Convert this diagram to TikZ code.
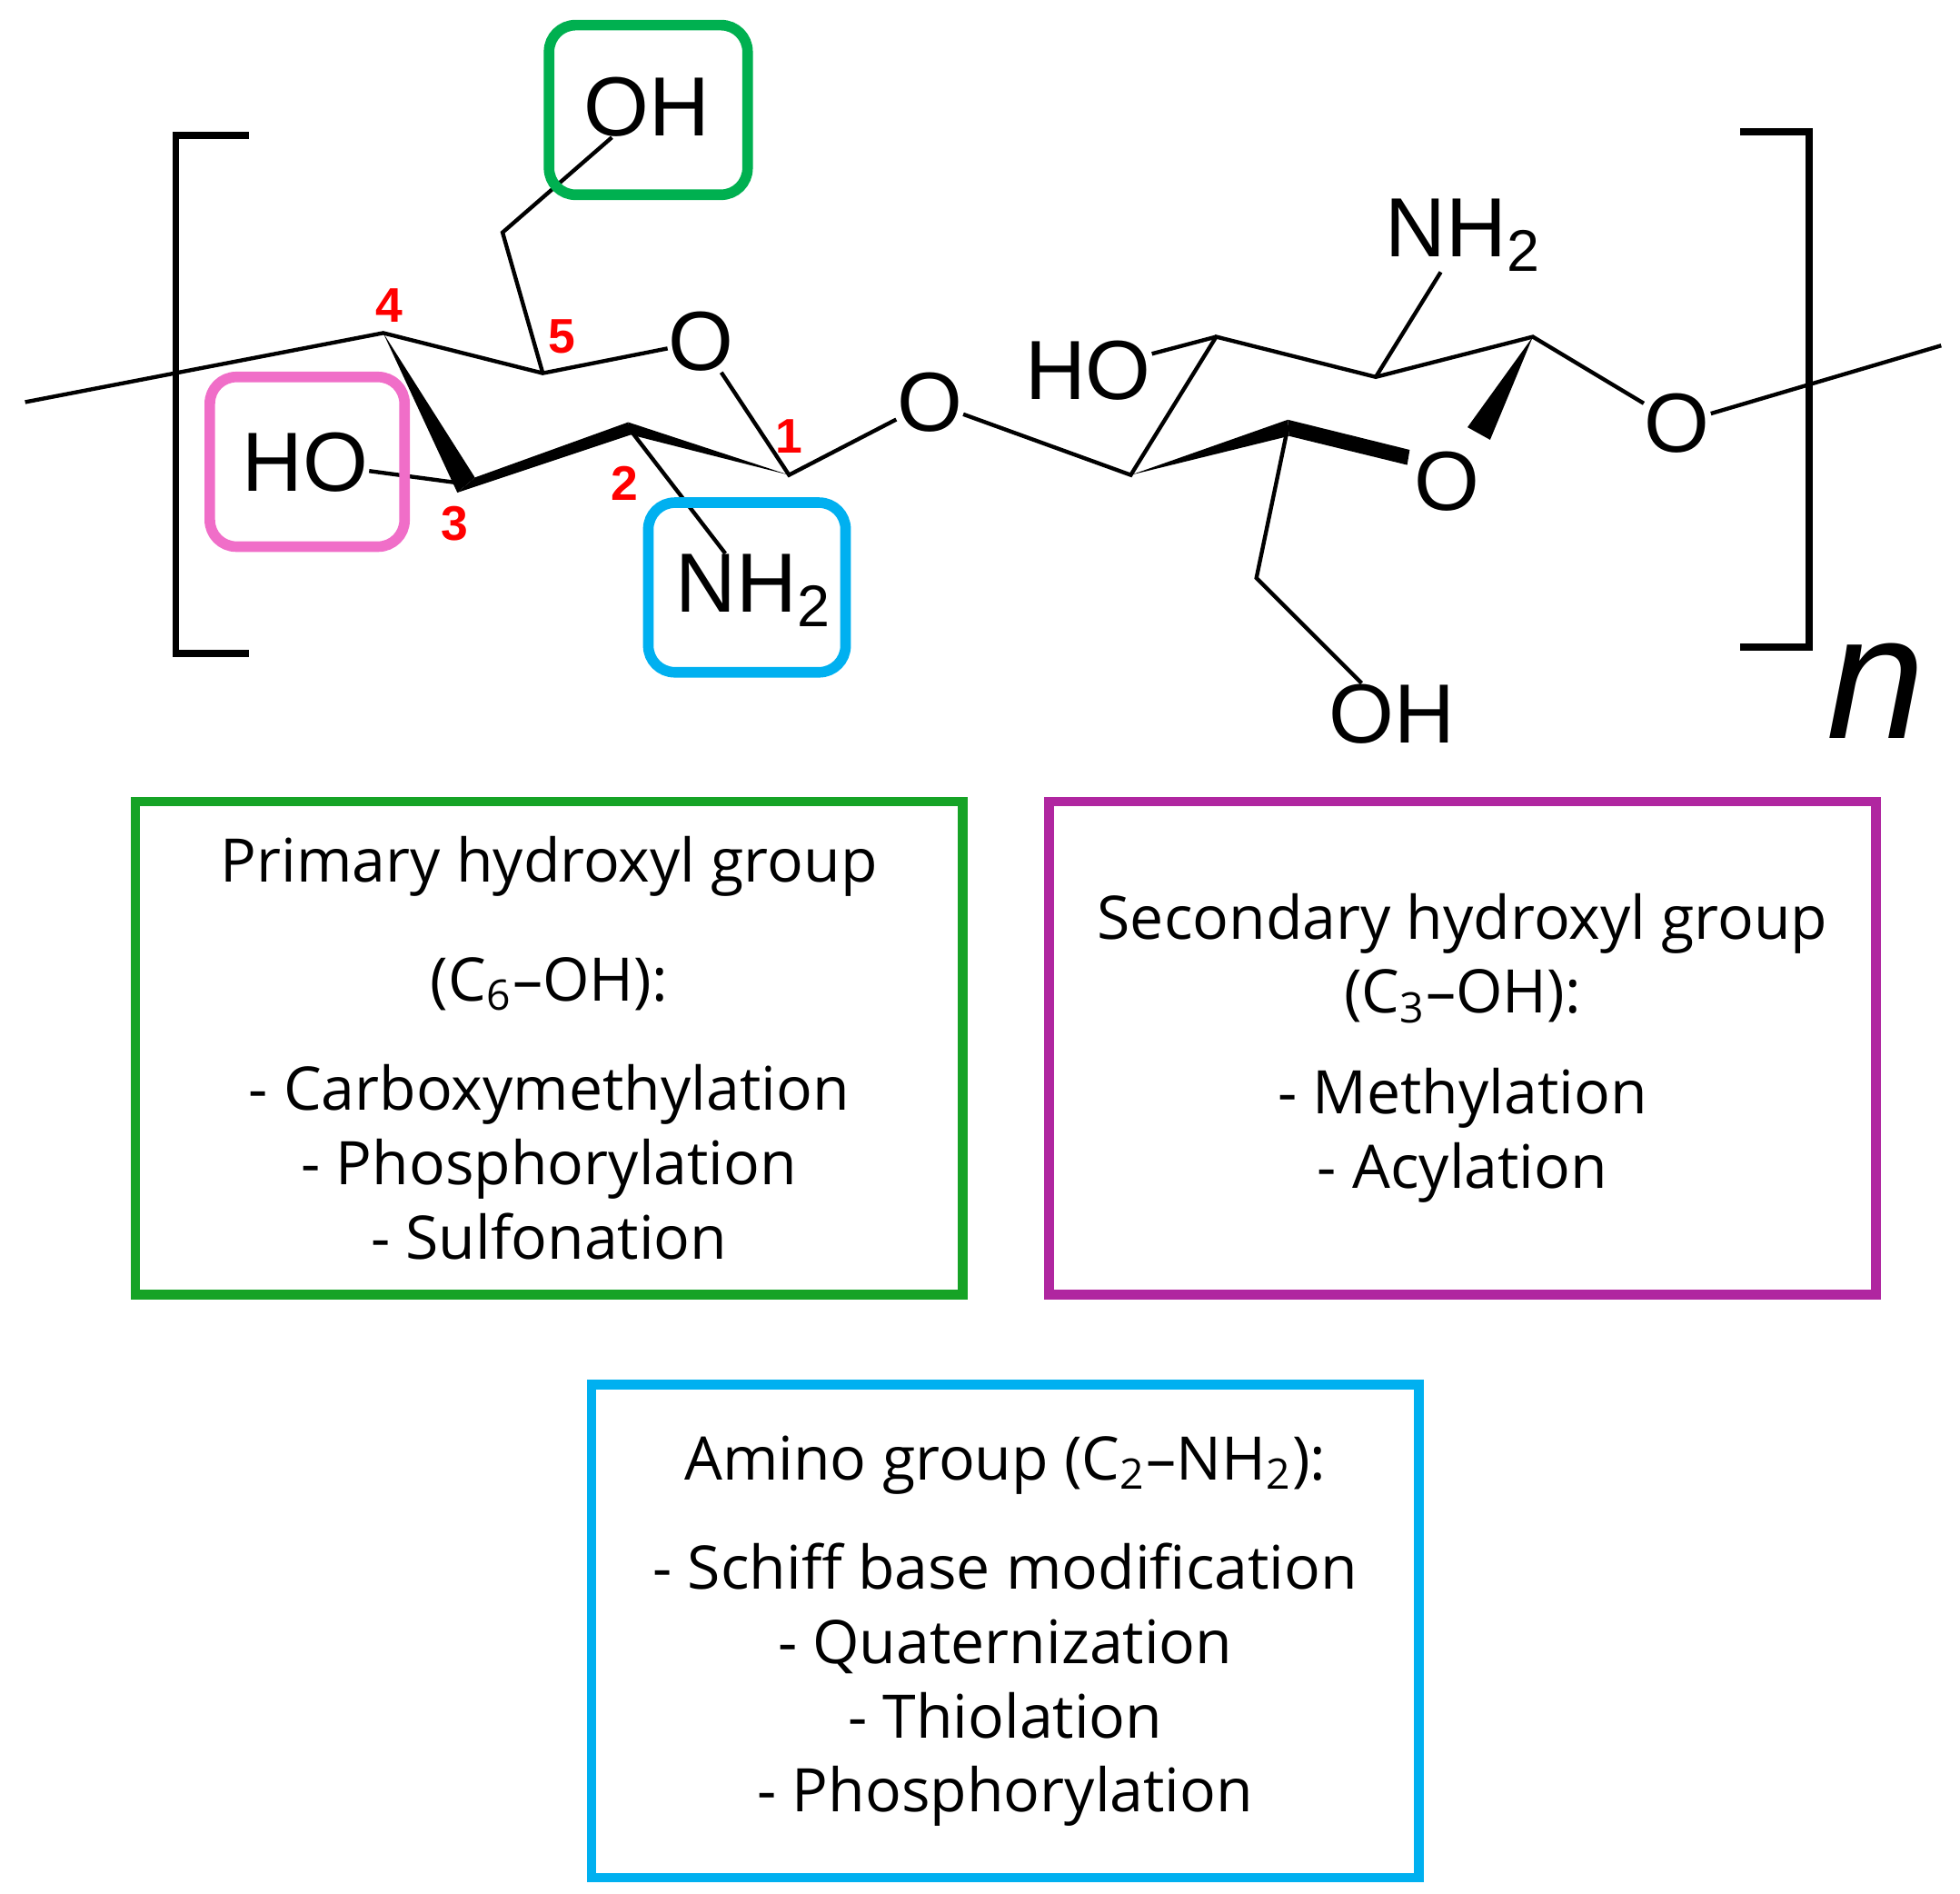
\documentclass[tikz,border=0pt]{standalone}
\usepackage{fontspec}
\setmainfont{Open Sans}
\newfontfamily\chemfont{Liberation Sans}
\definecolor{grbox}{RGB}{22,163,38}
\definecolor{mgbox}{RGB}{176,38,160}
\definecolor{cybox}{RGB}{0,176,240}
\definecolor{pkbox}{RGB}{240,110,200}
\definecolor{gnsmall}{RGB}{0,176,80}
\begin{document}
\begin{tikzpicture}[x=0.01cm,y=-0.01cm,
  bond/.style={line width=0.9pt},
  atom/.style={font=\chemfont\fontsize{19}{19}\selectfont,inner sep=0pt},
  num/.style={font=\chemfont\bfseries\fontsize{11}{11}\selectfont,text=red,inner sep=0pt},
  tag/.style={rounded corners=6pt,line width=2.4pt},
  infobox/.style={line width=2.2pt,minimum width=6.58cm,minimum height=3.92cm,align=center,
    font=\fontsize{13.6}{16.8}\selectfont}]
\useasboundingbox (0,0) rectangle (1560,1507);

% first ring
\coordinate (c4) at (305,265);
\coordinate (c5) at (432,297);
\coordinate (c1) at (628,378);
\coordinate (c2) at (500,340);
\coordinate (c3) at (370,385);
\coordinate (c6) at (400,185);
\node[atom] (o5) at (558,272) {O};
\node[atom] (oh6) at (515,85) {OH};
\node[atom] (ho3) at (243,368) {HO};
\node[atom] (nh2a) at (600,470) {NH\textsubscript{2}};
\node[atom] (og) at (740,320) {O};

% second ring
\coordinate (d4) at (900,378);
\coordinate (d3) at (968,268);
\coordinate (d2) at (1095,300);
\coordinate (d1) at (1220,268);
\coordinate (d5) at (1025,340);
\coordinate (d6) at (1000,460);
\node[atom] (o5b) at (1152,383) {O};
\node[atom] (ho3b) at (866,295) {HO};
\node[atom] (nh2b) at (1165,187) {NH\textsubscript{2}};
\node[atom] (oh6b) at (1108,568) {OH};
\node[atom] (o4) at (1335,337) {O};

% chain ends
\coordinate (lend) at (20,320);
\coordinate (rend) at (1545,275);

% thin bonds
\draw[bond] (lend) -- (c4) -- (c5) -- (o5);
\draw[bond] (o5) -- (c1) -- (og) -- (d4) -- (d3) -- (d2) -- (d1) -- (o4) -- (rend);
\draw[bond] (c5) -- (c6) -- (oh6);
\draw[bond] (c3) -- (ho3);
\draw[bond] (c2) -- (nh2a);
\draw[bond] (d3) -- (ho3b);
\draw[bond] (d2) -- (nh2b);
\draw[bond] (d5) -- (d6) -- (oh6b);

% bold bonds
\fill (c4) -- (378,380) -- (364,392) -- cycle;
\fill (364,392) -- (378,380) -- (500,336) -- (502,346) -- cycle;
\fill (500,336) -- (502,346) -- (c1) -- cycle;
\fill (d4) -- (1025,334) -- (1026,347) -- cycle;
\fill (1025,334) -- (1026,347) -- (1120,370) -- (1122,358) -- cycle;
\fill (d1) -- (1168,340) -- (1186,350) -- cycle;

% numbers
\node[num] at (310,243) {4};
\node[num] at (447,268) {5};
\node[num] at (628,347) {1};
\node[num] at (497,385) {2};
\node[num] at (362,417) {3};

% brackets
\draw[line width=1.6pt] (198,108) -- (140,108) -- (140,520) -- (198,520);
\draw[line width=1.6pt] (1385,105) -- (1440,105) -- (1440,515) -- (1385,515);
\node[font=\chemfont\itshape\fontsize{40}{40}\selectfont,inner sep=0pt] (nn) at (1493,550) {n};

% tag boxes
\draw[tag,gnsmall] (437,20) rectangle (595,155);
\draw[tag,pkbox] (167,300) rectangle (322,435);
\draw[tag,cybox] (516,400) rectangle (673,535);

% info boxes
\node[infobox,draw=grbox,anchor=north west] (prim) at (104,634)
  {Primary hydroxyl group\\[10pt](C\textsubscript{6}--OH):\\[8pt]- Carboxymethylation\\- Phosphorylation\\- Sulfonation};
\node[infobox,draw=mgbox,anchor=north west] (sec) at (831,634)
  {Secondary hydroxyl group\\(C\textsubscript{3}--OH):\\[6pt]- Methylation\\- Acylation};
\node[infobox,draw=cybox,anchor=north west] (amino) at (467,1098)
  {Amino group (C\textsubscript{2}--NH\textsubscript{2}):\\[8pt]- Schiff base modification\\- Quaternization\\- Thiolation\\- Phosphorylation};
\end{tikzpicture}
\end{document}
